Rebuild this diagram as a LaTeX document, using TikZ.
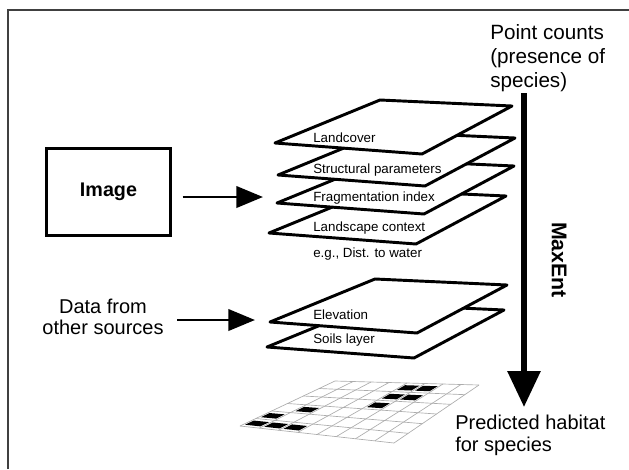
\documentclass[tikz,border=0pt]{standalone}
\usepackage{fontspec}
\setmainfont{Liberation Sans}
\usetikzlibrary{arrows.meta,calc}

\tikzset{
  layer/.style={draw, fill=white, line width=2.2pt, line join=round},
  laytext/.style={anchor=west, inner sep=0pt, font=\fontsize{10}{12}\selectfont},
  bigtext/.style={inner sep=0pt, align=left},
  arr/.style={line width=2.2pt, -{Triangle[length=20pt,width=16pt]}},
  gridline/.style={gray!65, line width=0.5pt},
}

\begin{document}
\begin{tikzpicture}[x=0.75pt, y=-0.75pt]
  \useasboundingbox (0,0) rectangle (629,469);

  % frame (only top and left edges are in view)
  \draw[line width=1.2pt, black!75] (8,469) -- (8,10) -- (629,10);

  % image box and its arrow
  \node[draw, line width=2.2pt, minimum width=93pt, minimum height=65pt, inner sep=0pt,
        font=\fontsize{14.8}{17}\selectfont\bfseries] (img) at (108.5,192) {Image};
  \coordinate (imgto) at (263,197);
  \draw[arr, shorten <=8pt] (img.east |- imgto) -- (imgto);

  % other data and its arrow
  \node[bigtext, align=center, anchor=north, font=\fontsize{15}{15.75}\selectfont] (other)
    at (103,299) {Data from\\other sources};
  \coordinate (otherto) at (255,320);
  \draw[arr, shorten <=10pt] (other.east |- otherto) -- (otherto);

  % layers from the image
  \foreach \lx/\ly/\lab [count=\i] in {269/233/Landscape context, 277/203/Fragmentation index,
                                      278/175/Structural parameters, 275/143/Landcover}{
    \filldraw[layer] (\lx,\ly) -- ++(105,-43) -- ++(132,6) -- ++(-90,48) -- cycle;
    \node[laytext] (lay\i) at (313,\ly-5) {\lab};
  }
  \node[laytext] (water) at (313,254) {e.g., Dist. to water};

  % layers from other sources
  \foreach \lx/\ly/\lab [count=\i] in {267/347/Soils layer, 270/322/Elevation}{
    \filldraw[layer] (\lx,\ly) -- ++(105,-43) -- ++(132,6) -- ++(-90,48) -- cycle;
    \node[laytext] (ext\i) at (313,\ly-7) {\lab};
  }

  % species data and MaxEnt arrow
  \node[bigtext, anchor=north west, font=\fontsize{15.5}{18}\selectfont] (pc)
    at (490,24) {Point counts\\(presence of\\species)};
  \coordinate (maxtop) at (524,93);
  \coordinate (maxbot) at (524,407);
  \draw[line width=4.5pt, -{Triangle[length=27pt,width=24pt]}] (maxtop) -- (maxbot);
  \node[rotate=-90, inner sep=0pt, font=\fontsize{16}{18}\selectfont\bfseries] (maxent)
    at (559,260) {MaxEnt};
  \node[bigtext, anchor=north west, font=\fontsize{15}{16.5}\selectfont] (ph)
    at (455,415) {Predicted habitat\\for species};

  % predicted habitat grid
  \coordinate (FL) at (240,426);
  \coordinate (FR) at (394,443);
  \coordinate (BR) at (479,385);
  \coordinate (BL) at (335,381);
  \foreach \c in {0,...,8}
    \draw[gridline] ($(FL)!\c/8!(FR)$) -- ($(BL)!\c/8!(BR)$);
  \foreach \r in {0,...,6}
    \draw[gridline] ($(FL)!\r/6!(BL)$) -- ($(FR)!\r/6!(BR)$);

  % occupied cells
  \foreach \c/\r in {1/1,2/1,3/1,1/2,2/3,5/4,5/5,5/6,6/5,6/6}{
    \pgfmathsetmacro{\ua}{(\c-0.9)/8}
    \pgfmathsetmacro{\ub}{(\c-0.1)/8}
    \pgfmathsetmacro{\va}{(\r-0.8)/6}
    \pgfmathsetmacro{\vb}{(\r-0.25)/6}
    \coordinate (fa) at ($(FL)!\ua!(FR)$);
    \coordinate (ba) at ($(BL)!\ua!(BR)$);
    \coordinate (fb) at ($(FL)!\ub!(FR)$);
    \coordinate (bb) at ($(BL)!\ub!(BR)$);
    \fill ($(fa)!\va!(ba)$) -- ($(fb)!\va!(bb)$) -- ($(fb)!\vb!(bb)$) -- ($(fa)!\vb!(ba)$) -- cycle;
  }

\end{tikzpicture}
\end{document}
